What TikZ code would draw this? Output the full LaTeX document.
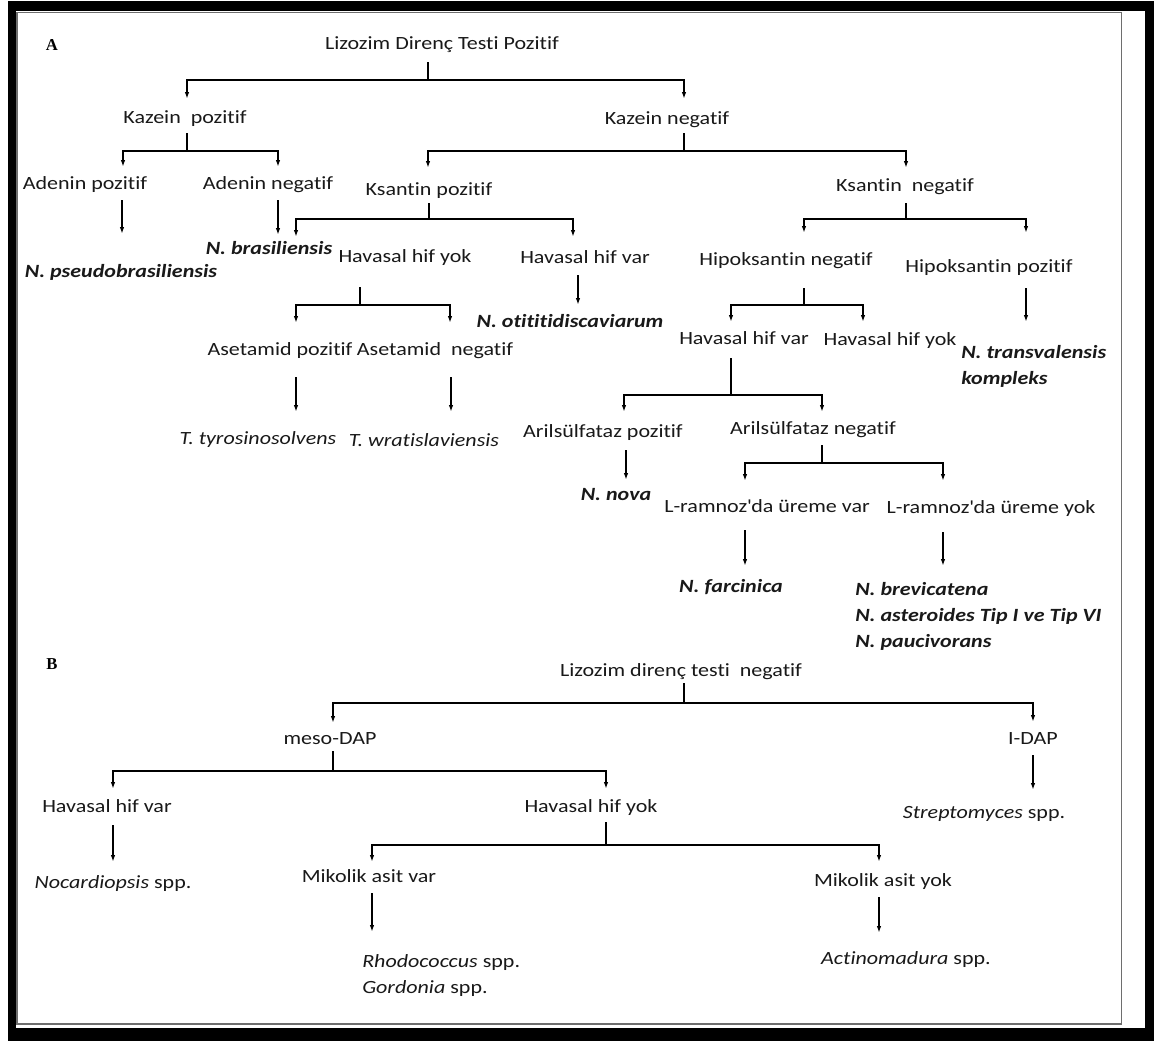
\documentclass[tikz,border=0pt]{standalone}
\usepackage{fontspec}
\setmainfont{Carlito}[FakeStretch=1.18, Ligatures={NoCommon}]
\newfontfamily\labfont{Liberation Serif}
\usetikzlibrary{arrows.meta}
\definecolor{frameg}{RGB}{110,110,110}
\definecolor{txt}{RGB}{25,25,25}
\tikzset{
  lbl/.style={inner sep=0pt, text height=9pt, text depth=0pt, text=txt, font=\fontsize{14pt}{17pt}\selectfont},
  sp/.style={lbl, font=\fontsize{14pt}{17pt}\selectfont\itshape},
  bsp/.style={lbl, font=\fontsize{14pt}{17pt}\selectfont\bfseries\itshape},
  ln/.style={line width=1pt, black},
  arr/.style={ln, -{Latex[length=5pt,width=3.4pt]}},
  sec/.style={inner sep=0pt, font=\labfont\bfseries\fontsize{12.5pt}{14pt}\selectfont}
}
\begin{document}
\begin{tikzpicture}[x=0.75pt,y=-0.75pt]
\useasboundingbox (0,0) rectangle (1154,1041);
\fill[black] (8,1) rectangle (1154,1041);
\fill[white] (16,11) rectangle (1145,1028);
\draw[frameg, line width=1pt] (17,12.5) rectangle (1121.5,1024);

% ---------- Section A ----------
\node[sec] (labA) at (52,45) {A};
\node[lbl] (root) at (442,44) {Lizozim Direnç Testi Pozitif};
\node[lbl] (kp) at (185,118) {Kazein~ pozitif};
\node[lbl] (kn) at (667,119) {Kazein negatif};
\node[lbl] (ap) at (85,184) {Adenin pozitif};
\node[lbl] (an) at (268,184) {Adenin negatif};
\node[bsp] (npb) at (121,272) {N. pseudobrasiliensis};
\node[bsp] (nbr) at (269,249) {N. brasiliensis};
\node[lbl] (xp) at (429,190) {Ksantin pozitif};
\node[lbl] (xn) at (905,186) {Ksantin~ negatif};
\node[lbl] (hy1) at (405,257) {Havasal hif yok};
\node[lbl] (hv1) at (585,258) {Havasal hif var};
\node[bsp] (oti) at (570,322) {N. otititidiscaviarum};
\node[lbl] (asp) at (280,350) {Asetamid pozitif};
\node[lbl] (asn) at (435,350) {Asetamid~ negatif};
\node[sp] (tty) at (258,439) {T. tyrosinosolvens};
\node[sp] (twr) at (424,440) {T. wratislaviensis};
\node[lbl] (hn) at (786,260) {Hipoksantin negatif};
\node[lbl] (hp) at (989,267) {Hipoksantin pozitif};
\node[bsp, anchor=west] (ntr1) at (961,353) {N. transvalensis};
\node[bsp, anchor=west] (ntr2) at (961,379) {kompleks};
\node[lbl] (hv2) at (744,339) {Havasal hif var};
\node[lbl] (hy2) at (890,340) {Havasal hif yok};
\node[lbl] (arp) at (603,432) {Arilsülfataz pozitif};
\node[lbl] (arn) at (813,429) {Arilsülfataz negatif};
\node[bsp] (nova) at (616,494) {N. nova};
\node[lbl] (lv) at (767,506) {L-ramnoz\textquotesingle da üreme var};
\node[lbl] (ly) at (991,507) {L-ramnoz\textquotesingle da üreme yok};
\node[bsp] (far) at (731,586) {N. farcinica};
\node[bsp, anchor=west] (nb1) at (855,589) {N. brevicatena};
\node[bsp, anchor=west] (nb2) at (855,615) {N. asteroides Tip I ve Tip VI};
\node[bsp, anchor=west] (nb3) at (855,641) {N. paucivorans};

\coordinate (j1) at (428,80);
\coordinate (j2) at (187,151);
\coordinate (j3) at (684,151);
\coordinate (j4) at (429,219);
\coordinate (j5) at (360,305);
\coordinate (j6) at (906,219);
\coordinate (j7) at (804,305);
\coordinate (j8) at (731,395);
\coordinate (j9) at (822,463);

\draw[ln] ([shift={(-14,12)}]root.south) -- (j1);
\draw[arr] (j1) -| ([shift={(2,-13)}]kp.north);
\draw[arr] (j1) -| ([shift={(17,-14)}]kn.north);

\draw[ln] ([shift={(2,9)}]kp.south) -- (j2);
\draw[arr] (j2) -| ([shift={(38,-11)}]ap.north);
\draw[arr] (j2) -| ([shift={(10,-11)}]an.north);
\draw[arr] ([shift={(37,10)}]ap.south) -- ([shift={(1,-32)}]npb.north);
\draw[arr] ([shift={(10,10)}]an.south) -- ([shift={(9,-8)}]nbr.north);

\draw[ln] ([shift={(17,8)}]kn.south) -- (j3);
\draw[arr] (j3) -| ([shift={(-1,-16)}]xp.north);
\draw[arr] (j3) -| ([shift={(1,-12)}]xn.north);

\draw[ln] ([shift={(0,7)}]xp.south) -- (j4);
\draw[arr] (j4) -| ([shift={(-109,-14)}]hy1.north);
\draw[arr] (j4) -| ([shift={(-12,-15)}]hv1.north);
\draw[arr] ([shift={(-7,11)}]hv1.south) -- ([shift={(8,-11)}]oti.north);

\draw[ln] ([shift={(-45,24)}]hy1.south) -- (j5);
\draw[arr] (j5) -| ([shift={(16,-21)}]asp.north);
\draw[arr] (j5) -| ([shift={(15,-21)}]asn.north);
\draw[arr] ([shift={(16,21)}]asp.south) -- ([shift={(38,-21)}]tty.north);
\draw[arr] ([shift={(16,21)}]asn.south) -- ([shift={(27,-22)}]twr.north);

\draw[ln] ([shift={(1,11)}]xn.south) -- (j6);
\draw[arr] (j6) -| ([shift={(18,-21)}]hn.north);
\draw[arr] (j6) -| ([shift={(37,-28)}]hp.north);
\draw[arr] ([shift={(37,15)}]hp.south) -- ([shift={(65,-25)}]ntr1.north west);

\draw[ln] ([shift={(18,22)}]hn.south) -- (j7);
\draw[arr] (j7) -| ([shift={(-13,-11)}]hv2.north);
\draw[arr] (j7) -| ([shift={(-27,-12)}]hy2.north);

\draw[ln] ([shift={(-13,13)}]hv2.south) -- (j8);
\draw[arr] (j8) -| ([shift={(21,-14)}]arp.north);
\draw[arr] (j8) -| ([shift={(9,-11)}]arn.north);
\draw[arr] ([shift={(23,12)}]arp.south) -- ([shift={(10,-8)}]nova.north);

\draw[ln] ([shift={(9,10)}]arn.south) -- (j9);
\draw[arr] (j9) -| ([shift={(-22,-19)}]lv.north);
\draw[arr] (j9) -| ([shift={(-48,-20)}]ly.north);
\draw[arr] ([shift={(-22,18)}]lv.south) -- ([shift={(14,-14)}]far.north);
\draw[arr] ([shift={(-48,19)}]ly.south) -- ([shift={(88,-17)}]nb1.north west);

% ---------- Section B ----------
\node[sec] (labB) at (52,664) {B};
\node[lbl] (root2) at (681,670) {Lizozim direnç testi~ negatif};
\node[lbl] (meso) at (330,738) {meso-DAP};
\node[lbl] (ldap) at (1033,738) {I-DAP};
\node[lbl] (hv3) at (107,806) {Havasal hif var};
\node[lbl] (hy3) at (591,806) {Havasal hif yok};
\node[lbl] (noc) at (113,882) {{\itshape Nocardiopsis} spp.};
\node[lbl] (mv) at (369,876) {Mikolik asit var};
\node[lbl] (my) at (883,880) {Mikolik asit yok};
\node[lbl] (strep) at (984,812) {{\itshape Streptomyces} spp.};
\node[lbl, anchor=west] (rho1) at (362,961) {{\itshape Rhodococcus} spp.};
\node[lbl, anchor=west] (rho2) at (362,987) {{\itshape Gordonia} spp.};
\node[lbl] (act) at (906,958) {{\itshape Actinomadura} spp.};

\coordinate (k1) at (684,703);
\coordinate (k2) at (333,771);
\coordinate (k3) at (606,845);

\draw[ln] ([shift={(3,7)}]root2.south) -- (k1);
\draw[arr] (k1) -| ([shift={(3,-9)}]meso.north);
\draw[arr] (k1) -| ([shift={(0,-10)}]ldap.north);

\draw[ln] ([shift={(3,7)}]meso.south) -- (k2);
\draw[arr] (k2) -| ([shift={(6,-11)}]hv3.north);
\draw[arr] (k2) -| ([shift={(15,-11)}]hy3.north);
\draw[arr] ([shift={(0,11)}]ldap.south) -- ([shift={(49,-16)}]strep.north);
\draw[arr] ([shift={(6,13)}]hv3.south) -- ([shift={(0,-14)}]noc.north);

\draw[ln] ([shift={(15,10)}]hy3.south) -- (k3);
\draw[arr] (k3) -| ([shift={(3,-8)}]mv.north);
\draw[arr] (k3) -| ([shift={(-4,-12)}]my.north);
\draw[arr] ([shift={(3,11)}]mv.south) -- ([shift={(10,-23)}]rho1.north west);
\draw[arr] ([shift={(-4,11)}]my.south) -- ([shift={(-27,-19)}]act.north);
\end{tikzpicture}
\end{document}
